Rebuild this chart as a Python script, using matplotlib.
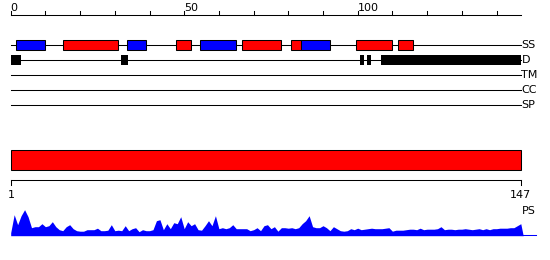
import matplotlib
matplotlib.use("Agg")
import matplotlib.pyplot as plt
import numpy as np

# ---- data ----
seq_len = 147
track_labels = ["SS", "D", "TM", "CC", "SP"]
top_ticks_major = [0, 50, 100]
top_ticks_minor = list(range(0, 141, 10))

ss_start = [1.6, 15.0, 33.6, 47.7, 54.6, 66.8, 80.9, 83.7, 99.6, 111.7]
ss_end   = [9.8, 30.8, 38.9, 51.9, 64.8, 77.8, 83.7, 91.9, 109.8, 115.8]
ss_type  = ["E", "H", "E", "H", "E", "H", "H", "E", "H", "H"]

dis_start = [0.0, 31.7, 100.7, 102.7, 106.7]
dis_end   = [3.0, 33.8, 101.8, 103.8, 147.0]

domain_start = [0]
domain_end = [147]
scale_labels = ["1", "147"]

ps_values = [3, 21, 11, 20, 26, 19, 8, 9, 9, 12,
             9, 10, 14, 9, 6, 5, 9, 11, 7, 5,
             4.5, 4.5, 6, 6, 6, 7.5, 5, 5, 5.5, 11,
             5, 5.5, 5, 10, 5, 7, 8, 4, 6, 5,
             5, 6, 15, 16, 6, 12, 7, 13, 12, 19,
             7, 14, 10, 12, 6, 5.5, 10, 15, 10, 20,
             7, 8, 7, 8, 11, 7, 7, 7, 7, 5,
             6, 8, 5, 10, 11, 7, 9, 4.5, 8, 8,
             7.5, 8, 7, 8, 12, 15, 20, 9, 8, 8,
             10, 8, 5, 9, 7, 5, 4.5, 5, 7, 6,
             7.5, 6, 6.5, 7, 7.5, 7, 7, 7, 7.5, 8,
             4.5, 5.5, 5.5, 5.5, 6, 6.5, 6.5, 6, 7.5, 6,
             6.5, 6.5, 6.5, 7, 9, 6, 6.5, 6.5, 6, 6.5,
             6.5, 7, 6.5, 6, 6.5, 7, 6, 7, 6, 7,
             7, 7.5, 7.5, 7.5, 8, 8, 10, 12, 0]
ps_pos = list(range(0, 148)) + [147.7]

# ---- layout ----
RED, BLUE = "#ff0000", "#0000ff"
LW = 0.75
fig = plt.figure(figsize=(5.5, 2.6), dpi=100)
ax = fig.add_axes([0, 0, 1, 1])
ppu = 3.47
x0 = 10.7
ax.set_xlim(-x0 / ppu, (550 - x0) / ppu)
ax.set_ylim(260, 0)
ax.axis("off")

fs = 8
# top axis
ax.plot([0, seq_len], [14.7, 14.7], color="black", lw=LW)
for t in top_ticks_minor:
    ax.plot([t, t], [10.5, 14.7], color="black", lw=LW)
for t in top_ticks_major:
    ax.text(t, 10.8, str(t), ha="left", va="baseline", fontsize=fs, color="black")

# track lines and labels
track_y = [45, 60, 75.3, 90, 105.3]
for lab, y in zip(track_labels, track_y):
    ax.plot([0, seq_len], [y, y], color="black", lw=LW, zorder=1)
    ax.text(seq_len + 0.2, y, lab, ha="left", va="center", fontsize=fs)

# secondary structure
for s, e, t in zip(ss_start, ss_end, ss_type):
    ax.barh(track_y[0], e - s, left=s, height=9.6,
            color=RED if t == "H" else BLUE, edgecolor="black", lw=LW, zorder=2)

# disorder
for s, e in zip(dis_start, dis_end):
    ax.barh(track_y[1], e - s, left=s, height=10.7, color="black",
            edgecolor="black", lw=0, zorder=2)

# domain bar
for s, e in zip(domain_start, domain_end):
    ax.barh(160.3, e - s, left=s, height=20, color=RED, edgecolor="black",
            lw=LW, zorder=2)

# bottom scale
ax.plot([0, seq_len], [180.3, 180.3], color="black", lw=LW)
for t in [0, seq_len]:
    ax.plot([t, t], [180.3, 184.5], color="black", lw=LW)
ax.text(0.2, 195, scale_labels[0], ha="center", va="center", fontsize=fs)
ax.text(seq_len, 195, scale_labels[1], ha="center", va="center", fontsize=fs)
ax.text(seq_len + 0.2, 210.5, "PS", ha="left", va="center", fontsize=fs)

# PS profile
base = 235.7
ps_top = [base - v for v in ps_values]
ax.fill_between(ps_pos, base, ps_top, color=BLUE, lw=0)
ax.plot([seq_len, seq_len + 4.3], [base - 0.3, base - 0.3], color=BLUE, lw=LW)

fig.savefig("out.png", dpi=100)
